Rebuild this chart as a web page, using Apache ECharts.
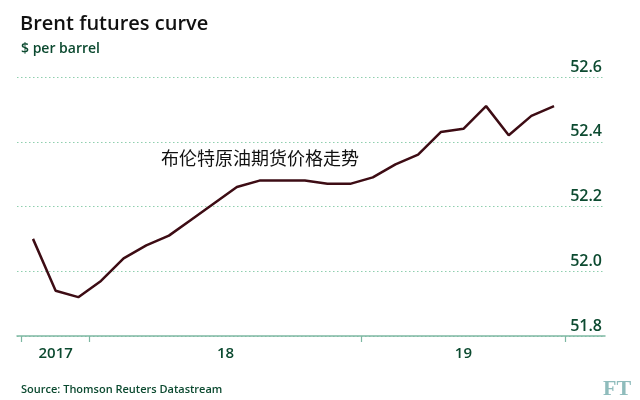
<!DOCTYPE html>
<html>
<head>
<meta charset="utf-8">
<script src="https://cdn.jsdelivr.net/npm/echarts@6/dist/echarts.min.js"></script>
<style>html,body{margin:0;padding:0;background:#fff}#c{width:640px;height:400px}</style>
</head>
<body>
<div id="c"></div>
<script>
// Monthly contract months, Oct 2017 – Sep 2019
const months = ['2017-10','2017-11','2017-12',
  '2018-01','2018-02','2018-03','2018-04','2018-05','2018-06','2018-07','2018-08','2018-09','2018-10','2018-11','2018-12',
  '2019-01','2019-02','2019-03','2019-04','2019-05','2019-06','2019-07','2019-08','2019-09'];
const prices = [52.10, 51.94, 51.92, 51.97, 52.04, 52.08, 52.11, 52.16, 52.21, 52.26, 52.28, 52.28,
  52.28, 52.27, 52.27, 52.29, 52.33, 52.36, 52.43, 52.44, 52.51, 52.42, 52.48, 52.51];
const yearLabels = ['2017', '18', '19'];
const yTicks = [51.8, 52.0, 52.2, 52.4, 52.6];

// year boundaries (in month-index units) and label centres
const yearStarts = [0, 3, 15];
const boundaries = yearStarts.map(s => s - 0.5).concat([months.length - 0.5]);
const labelPos = [];
for (let k = 0; k < yearStarts.length; k++) {
  labelPos.push((boundaries[k] + boundaries[k + 1]) / 2);
}

const chart = echarts.init(document.getElementById('c'));
const green = '#0c4a30';
chart.setOption({
  animation: false,
  title: [
    { text: 'Brent futures curve', left: 15, top: 9,
      textStyle: { fontFamily: 'Open Sans', fontSize: 20, fontWeight: 600, color: '#111' } },
    { text: '$ per barrel', left: 16, top: 37,
      textStyle: { fontFamily: 'Open Sans', fontSize: 14, fontWeight: 600, color: green } },
    { text: 'Source: Thomson Reuters Datastream', left: 16, top: 379,
      textStyle: { fontFamily: 'Open Sans', fontSize: 11, fontWeight: 600, color: green } },
    { text: 'FT', left: 598, top: 373,
      textStyle: { fontFamily: 'Liberation Serif', fontSize: 22, fontWeight: 'bold', color: '#8fbcbc' } },
    { text: '布伦特原油期货价格走势', left: 156, top: 144,
      textStyle: { fontFamily: 'Noto Sans CJK SC', fontSize: 18, fontWeight: 'normal', color: '#111' } }
  ],
  grid: { left: 17, right: 35, top: 77, bottom: 64 },
  xAxis: {
    type: 'value',
    min: -0.706, max: 25.25,
    axisLine: { show: true, onZero: false, lineStyle: { color: '#7db8a2', width: 1.5 } },
    axisTick: { show: true, customValues: boundaries, length: 6, lineStyle: { color: '#7db8a2', width: 1.2 } },
    axisLabel: { customValues: labelPos, margin: 10,
      formatter: function (v) {
        const k = labelPos.findIndex(p => Math.abs(p - v) < 1e-6);
        return k >= 0 ? yearLabels[k] : '';
      },
      fontFamily: 'Open Sans', fontSize: 15, fontWeight: 600, color: green },
    splitLine: { show: false }
  },
  yAxis: {
    type: 'value', position: 'right',
    min: yTicks[0], max: yTicks[yTicks.length - 1], interval: 0.2,
    axisLine: { show: false }, axisTick: { show: false },
    axisLabel: { inside: true, margin: 3, verticalAlign: 'bottom', padding: [0, 0, 2, 0],
      formatter: v => v.toFixed(1),
      fontFamily: 'Open Sans', fontSize: 16, fontWeight: 600, color: green },
    splitLine: { show: true, lineStyle: { color: '#8fcfae', type: [1.5, 2.5], width: 1 } }
  },
  series: [{
    type: 'line',
    data: prices.map((p, i) => [i, p]),
    symbol: 'none',
    lineStyle: { color: '#3d0c14', width: 2.5 },
    z: 5
  }]
});
</script>
</body>
</html>
